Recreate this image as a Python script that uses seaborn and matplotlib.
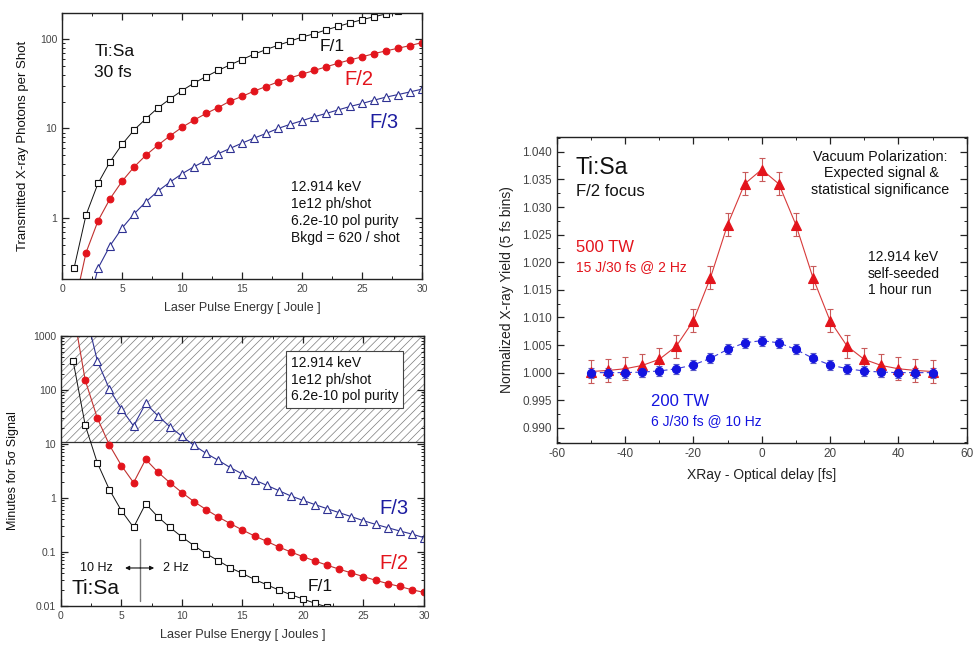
import numpy as np
import pandas as pd
import matplotlib
matplotlib.use("Agg")
import matplotlib.pyplot as plt
from matplotlib.ticker import FuncFormatter, MultipleLocator, LogLocator, NullFormatter
import seaborn as sns

# ---------------- data ----------------
# Transmitted photons per shot vs laser pulse energy (Ti:Sa, 30 fs)
energy_f1_top = [1, 2, 3, 4, 5, 6, 7, 8, 9, 10, 11, 12, 13, 14, 15, 16, 17, 18, 19, 20,
                 21, 22, 23, 24, 25, 26, 27, 28]
photons_f1 = [0.275, 1.08, 2.44, 4.25, 6.63, 9.6, 12.9, 17.0, 21.4, 26.5, 32.1, 38.0, 44.4,
              51.3, 58.9, 67.5, 76.0, 85.0, 94.2, 105, 114, 126, 138, 151, 164, 177, 190, 203]
energy_f2_top = list(range(1, 31))
photons_f2 = [0.10, 0.41, 0.93, 1.64, 2.57, 3.71, 5.04, 6.52, 8.28, 10.3, 12.4, 14.7, 17.1,
              20.2, 22.8, 26.1, 29.4, 33.1, 36.7, 40.4, 44.4, 48.7, 53.5, 58.3, 63.0, 68.6,
              73.5, 78.7, 84.3, 91.0]
energy_f3_top = list(range(2, 31))
photons_f3 = [0.08, 0.275, 0.49, 0.77, 1.11, 1.52, 2.0, 2.52, 3.12, 3.74, 4.40, 5.21, 5.98,
              6.86, 7.80, 8.79, 10.0, 11.1, 12.2, 13.5, 14.7, 16.1, 17.6, 19.0, 20.7, 22.4,
              23.9, 25.6, 27.5]

# Minutes for a 5 sigma signal vs laser pulse energy
energy_f1_bot = list(range(1, 24))
minutes_f1 = [349, 22.5, 4.5, 1.43, 0.58, 0.286, 0.785, 0.45, 0.286, 0.19, 0.131, 0.093,
              0.069, 0.051, 0.040, 0.031, 0.0248, 0.0198, 0.0162, 0.0135, 0.0112, 0.0096,
              0.0082]
energy_f2_bot = list(range(1, 31))
minutes_f2 = [3000, 153, 30.3, 9.6, 3.97, 1.92, 5.2, 3.03, 1.92, 1.26, 0.855, 0.61, 0.445,
              0.335, 0.255, 0.198, 0.158, 0.124, 0.100, 0.082, 0.068, 0.057, 0.048, 0.041,
              0.035, 0.030, 0.026, 0.023, 0.020, 0.0179]
energy_f3_bot = list(range(2, 31))
minutes_f3 = [3000, 349, 104, 44.5, 21.5, 56.6, 33.5, 20.9, 13.9, 9.4, 6.7, 4.99, 3.65, 2.78,
              2.15, 1.72, 1.37, 1.09, 0.905, 0.753, 0.634, 0.535, 0.451, 0.380, 0.325, 0.282,
              0.245, 0.215, 0.184]
excluded_minutes = 11  # runs longer than this are shaded

# Normalized X-ray yield vs X-ray/optical delay
delay_fs = [-50, -45, -40, -35, -30, -25, -20, -15, -10, -5, 0, 5, 10, 15, 20, 25, 30, 35,
            40, 45, 50]
yield_500tw = [1.0002, 1.0004, 1.0007, 1.0013, 1.0024, 1.0048, 1.0094, 1.0172, 1.0268,
               1.0342, 1.0368, 1.0342, 1.0268, 1.0172, 1.0094, 1.0048, 1.0024, 1.0013,
               1.0007, 1.0004, 1.0002]
err_500tw = [0.0021] * 21
yield_200tw = [1.0000, 1.0000, 1.0000, 1.0001, 1.0003, 1.0007, 1.0014, 1.0026, 1.0042,
               1.0054, 1.0058, 1.0054, 1.0042, 1.0026, 1.0014, 1.0007, 1.0003, 1.0001,
               1.0000, 1.0000, 1.0000]
err_200tw = [0.0009] * 21

# ---------------- style ----------------
sns.set_style("ticks")
plt.rcParams["font.family"] = ["Liberation Sans", "DejaVu Sans"]
plt.rcParams["hatch.linewidth"] = 0.5
plt.rcParams["axes.linewidth"] = 1.0
plt.rcParams["axes.unicode_minus"] = False

BLACK = "#111111"
RED = "#e3141c"
RED_LINE = "#c0302e"
NAVY = "#2e3192"
NAVY_TXT = "#1d1da0"
BLUE = "#1414e0"
TICK_TXT = "#444444"

fig = plt.figure(figsize=(9.74, 6.48), dpi=100)
ax_top = fig.add_axes([0.0637, 0.5694, 0.3696, 0.4106])
ax_bot = fig.add_axes([0.0626, 0.0648, 0.3727, 0.4167])
ax_r = fig.add_axes([0.5716, 0.3168, 0.4209, 0.4718])

plain = FuncFormatter(lambda v, p: f"{v:g}")


def style_axes(ax, labelsize=7.5):
    for s in ax.spines.values():
        s.set_visible(True)
        s.set_color("#222222")
    ax.tick_params(which="both", direction="in", top=True, right=True,
                   labelsize=labelsize, labelcolor=TICK_TXT, color="#222222")
    ax.tick_params(which="major", length=5, width=0.9)
    ax.tick_params(which="minor", length=2.5, width=0.7)


def log_y(ax):
    ax.set_yscale("log")
    ax.yaxis.set_major_locator(LogLocator(base=10))
    ax.yaxis.set_minor_locator(LogLocator(base=10, subs=np.arange(2, 10)))
    ax.yaxis.set_major_formatter(plain)
    ax.yaxis.set_minor_formatter(NullFormatter())


def series(ax, x, y, marker, ms, mfc, mec, lc, lw=0.8, **kw):
    sns.lineplot(x=x, y=y, ax=ax, color=lc, linewidth=lw, marker=marker, markersize=ms,
                 markerfacecolor=mfc, markeredgecolor=mec, markeredgewidth=0.8,
                 estimator=None, sort=False, legend=False, **kw)


# ---------------- top-left: photons per shot ----------------
ax = ax_top
log_y(ax)
series(ax, energy_f1_top, photons_f1, "s", 4.2, "white", BLACK, BLACK, lw=0.7)
series(ax, energy_f2_top, photons_f2, "o", 4.8, RED, RED, RED_LINE)
series(ax, energy_f3_top, photons_f3, "^", 5.5, "white", NAVY, NAVY)
ax.set_xlim(0, 30)
ax.set_ylim(0.208, 195)
ax.xaxis.set_major_locator(MultipleLocator(5))
ax.xaxis.set_minor_locator(MultipleLocator(2.5))
style_axes(ax)
ax.set_xlabel("Laser Pulse Energy [ Joule ]", fontsize=9, color="#333333", labelpad=6)
ax.set_ylabel("Transmitted X-ray Photons per Shot", fontsize=9.5, color=BLACK, labelpad=8)
ax.text(2.7, 72, "Ti:Sa", fontsize=12.5, va="center", color=BLACK)
ax.text(2.7, 42, "30 fs", fontsize=12.5, va="center", color=BLACK)
ax.text(21.5, 83, "F/1", fontsize=12.5, va="center", color=BLACK)
ax.text(23.5, 34.8, "F/2", fontsize=14.5, va="center", color=RED)
ax.text(25.6, 11.8, "F/3", fontsize=14.5, va="center", color=NAVY_TXT)
ax.text(19.05, 2.65, "12.914 keV\n1e12 ph/shot\n6.2e-10 pol purity\nBkgd = 620 / shot",
        fontsize=10, va="top", ha="left", color=BLACK, linespacing=1.27)

# ---------------- bottom-left: minutes for 5 sigma ----------------
ax = ax_bot
log_y(ax)
ax.axhspan(excluded_minutes, 1000, facecolor="none", edgecolor="#7a7a7a", hatch="////",
           linewidth=0, zorder=0)
ax.axhline(excluded_minutes, color="#333333", linewidth=0.9, zorder=1)
series(ax, energy_f1_bot, minutes_f1, "s", 4.2, "white", BLACK, BLACK, lw=0.7)
series(ax, energy_f2_bot, minutes_f2, "o", 4.8, RED, RED, RED_LINE)
series(ax, energy_f3_bot, minutes_f3, "^", 5.5, "white", NAVY, NAVY)
ax.set_xlim(0, 30)
ax.set_ylim(0.01, 1000)
ax.xaxis.set_major_locator(MultipleLocator(5))
ax.xaxis.set_minor_locator(MultipleLocator(2.5))
style_axes(ax)
ax.set_xlabel("Laser Pulse Energy [ Joules ]", fontsize=9.2, color="#333333", labelpad=6)
ax.set_ylabel("Minutes for 5σ Signal", fontsize=9, color=BLACK, labelpad=10)
ax.text(19.0, 430, "12.914 keV\n1e12 ph/shot\n6.2e-10 pol purity", fontsize=10,
        va="top", ha="left", color=BLACK, linespacing=1.25,
        bbox=dict(boxstyle="square,pad=0.35", facecolor="white", edgecolor="#444444",
                  linewidth=0.8))
ax.text(26.3, 0.645, "F/3", fontsize=14.5, va="center", color=NAVY_TXT)
ax.text(26.3, 0.062, "F/2", fontsize=14.5, va="center", color=RED)
ax.text(20.4, 0.023, "F/1", fontsize=12.5, va="center", color=BLACK)
ax.text(0.9, 0.0213, "Ti:Sa", fontsize=15, va="center", color=BLACK)
ax.plot([6.55, 6.55], [0.0124, 0.174], color="#777777", linewidth=1.0)
ax.annotate("", xy=(5.3, 0.0506), xytext=(6.55, 0.0506),
            arrowprops=dict(arrowstyle="-|>", color=BLACK, lw=0.8, mutation_scale=6,
                            shrinkA=0, shrinkB=0))
ax.annotate("", xy=(7.7, 0.0506), xytext=(6.55, 0.0506),
            arrowprops=dict(arrowstyle="-|>", color=BLACK, lw=0.8, mutation_scale=6,
                            shrinkA=0, shrinkB=0))
ax.text(2.9, 0.0506, "10 Hz", fontsize=9, ha="center", va="center", color=BLACK)
ax.text(8.4, 0.0506, "2 Hz", fontsize=9, ha="left", va="center", color=BLACK)

# ---------------- right: normalized X-ray yield ----------------
ax = ax_r
ax.errorbar(delay_fs, yield_500tw, yerr=err_500tw, fmt="none", ecolor="#c85a5a",
            elinewidth=0.8, capsize=2.5, capthick=0.8, zorder=2)
ax.errorbar(delay_fs, yield_200tw, yerr=err_200tw, fmt="none", ecolor="#5a5ac8",
            elinewidth=0.8, capsize=2.5, capthick=0.8, zorder=2)
series(ax, delay_fs, yield_500tw, "^", 7.5, RED, RED, "#d83a3a", lw=0.8, zorder=3)
series(ax, delay_fs, yield_200tw, "o", 5.8, BLUE, BLUE, "#3a3ad8", lw=0.8,
       linestyle=(0, (5, 3)), zorder=3)
ax.set_xlim(-60, 60)
ax.set_ylim(0.9873, 1.0427)
ax.xaxis.set_major_locator(MultipleLocator(20))
ax.xaxis.set_minor_locator(MultipleLocator(10))
ax.yaxis.set_major_locator(MultipleLocator(0.005))
ax.yaxis.set_minor_locator(MultipleLocator(0.0025))
ax.yaxis.set_major_formatter(FuncFormatter(lambda v, p: f"{v:.3f}"))
style_axes(ax, labelsize=8.5)
ax.set_xlabel("XRay - Optical delay [fs]", fontsize=10, color="#222222", labelpad=6)
ax.set_ylabel("Normalized X-ray Yield (5 fs bins)", fontsize=10, color="#222222", labelpad=6)
ax.text(-54.4, 1.0372, "Ti:Sa", fontsize=16.5, va="center", color=BLACK)
ax.text(-54.4, 1.0328, "F/2 focus", fontsize=12, va="center", color=BLACK)
ax.text(34.6, 1.0404, "Vacuum Polarization:\n Expected signal &\nstatistical significance",
        fontsize=10.3, ha="center", va="top", color=BLACK, linespacing=1.22)
ax.text(-54.4, 1.0226, "500 TW", fontsize=12, va="center", color=RED)
ax.text(-54.4, 1.0192, "15 J/30 fs @ 2 Hz", fontsize=10, va="center", color=RED)
ax.text(31.1, 1.0222, "12.914 keV\nself-seeded\n1 hour run", fontsize=10, ha="left",
        va="top", color=BLACK, linespacing=1.22)
ax.text(-32.5, 0.9947, "200 TW", fontsize=12, va="center", color=BLUE)
ax.text(-32.5, 0.9912, "6 J/30 fs @ 10 Hz", fontsize=10, va="center", color=BLUE)

fig.savefig("out.png", dpi=100, facecolor="white")
